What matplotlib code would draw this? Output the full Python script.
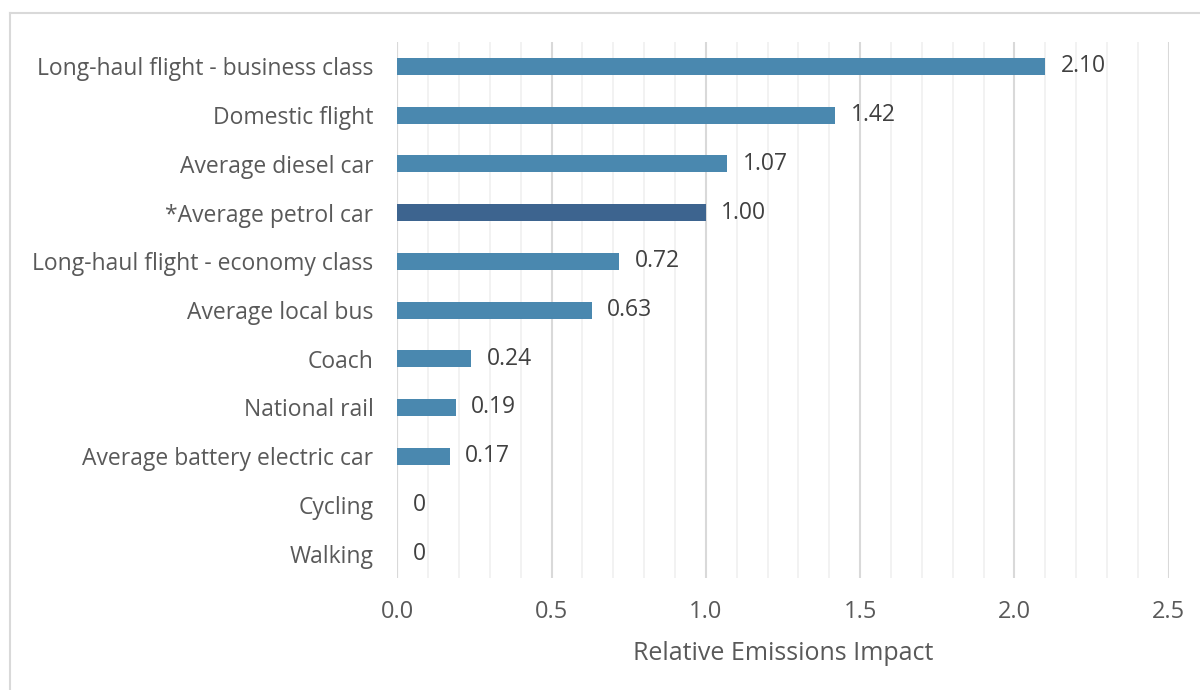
import numpy as np
import matplotlib.pyplot as plt
from matplotlib.lines import Line2D
from matplotlib.ticker import MultipleLocator

plt.rcParams['font.family'] = ['Open Sans', 'DejaVu Sans']

# ── data ─────────────────────────────────────────────────────────────────────
modes = [
    "Long-haul flight - business class",
    "Domestic flight",
    "Average diesel car",
    "*Average petrol car",
    "Long-haul flight - economy class",
    "Average local bus",
    "Coach",
    "National rail",
    "Average battery electric car",
    "Cycling",
    "Walking",
]
impact = [2.10, 1.42, 1.07, 1.00, 0.72, 0.63, 0.24, 0.19, 0.17, 0, 0]
value_labels = ["2.10", "1.42", "1.07", "1.00", "0.72", "0.63",
                "0.24", "0.19", "0.17", "0", "0"]
highlight = "*Average petrol car"

# ── plot ─────────────────────────────────────────────────────────────────────
fig = plt.figure(figsize=(12, 6.9), dpi=100)
ax = fig.add_axes([0.331, 0.1623, 0.643, 0.7767])

y = np.arange(len(modes))
colors = ["#3d648f" if m == highlight else "#4a88af" for m in modes]
ax.barh(y, impact, height=0.35, color=colors, zorder=3)

for yi, v, lab in zip(y, impact, value_labels):
    ax.text(v + 0.05, yi, lab, va="center", ha="left",
            fontsize=16.5, color="#404040", zorder=4)

ax.set_xlim(0, 2.5)
ax.set_ylim(len(modes) - 0.5, -0.5)
ax.set_yticks(y)
ax.set_yticklabels(modes, fontsize=16.5, color="#595959")
ax.xaxis.set_minor_locator(MultipleLocator(0.1))
ax.set_xticks(np.arange(0, 2.51, 0.5))
ax.set_xticklabels([f"{t:.1f}" for t in np.arange(0, 2.51, 0.5)],
                   fontsize=17, color="#595959")
ax.tick_params(axis="both", which="both", length=0)
ax.tick_params(axis="x", pad=16)
ax.tick_params(axis="y", pad=17)

ax.grid(True, axis="x", which="major", color="#d9d9d9", linewidth=1.5, zorder=0)
ax.grid(True, axis="x", which="minor", color="#f0f0f0", linewidth=1.2, zorder=0)
ax.axvline(0, color="#d9d9d9", linewidth=1.5, zorder=1)
for s in ax.spines.values():
    s.set_visible(False)

ax.set_xlabel("Relative Emissions Impact", fontsize=18, color="#595959", labelpad=12)

# chart-area border (left and top visible)
fig.add_artist(Line2D([10 / 1200, 10 / 1200], [0, 1 - 13 / 690],
                      transform=fig.transFigure, color="#d9d9d9", linewidth=1.5))
fig.add_artist(Line2D([10 / 1200, 1], [1 - 13 / 690, 1 - 13 / 690],
                      transform=fig.transFigure, color="#d9d9d9", linewidth=1.5))

plt.savefig("out.png", dpi=100)
